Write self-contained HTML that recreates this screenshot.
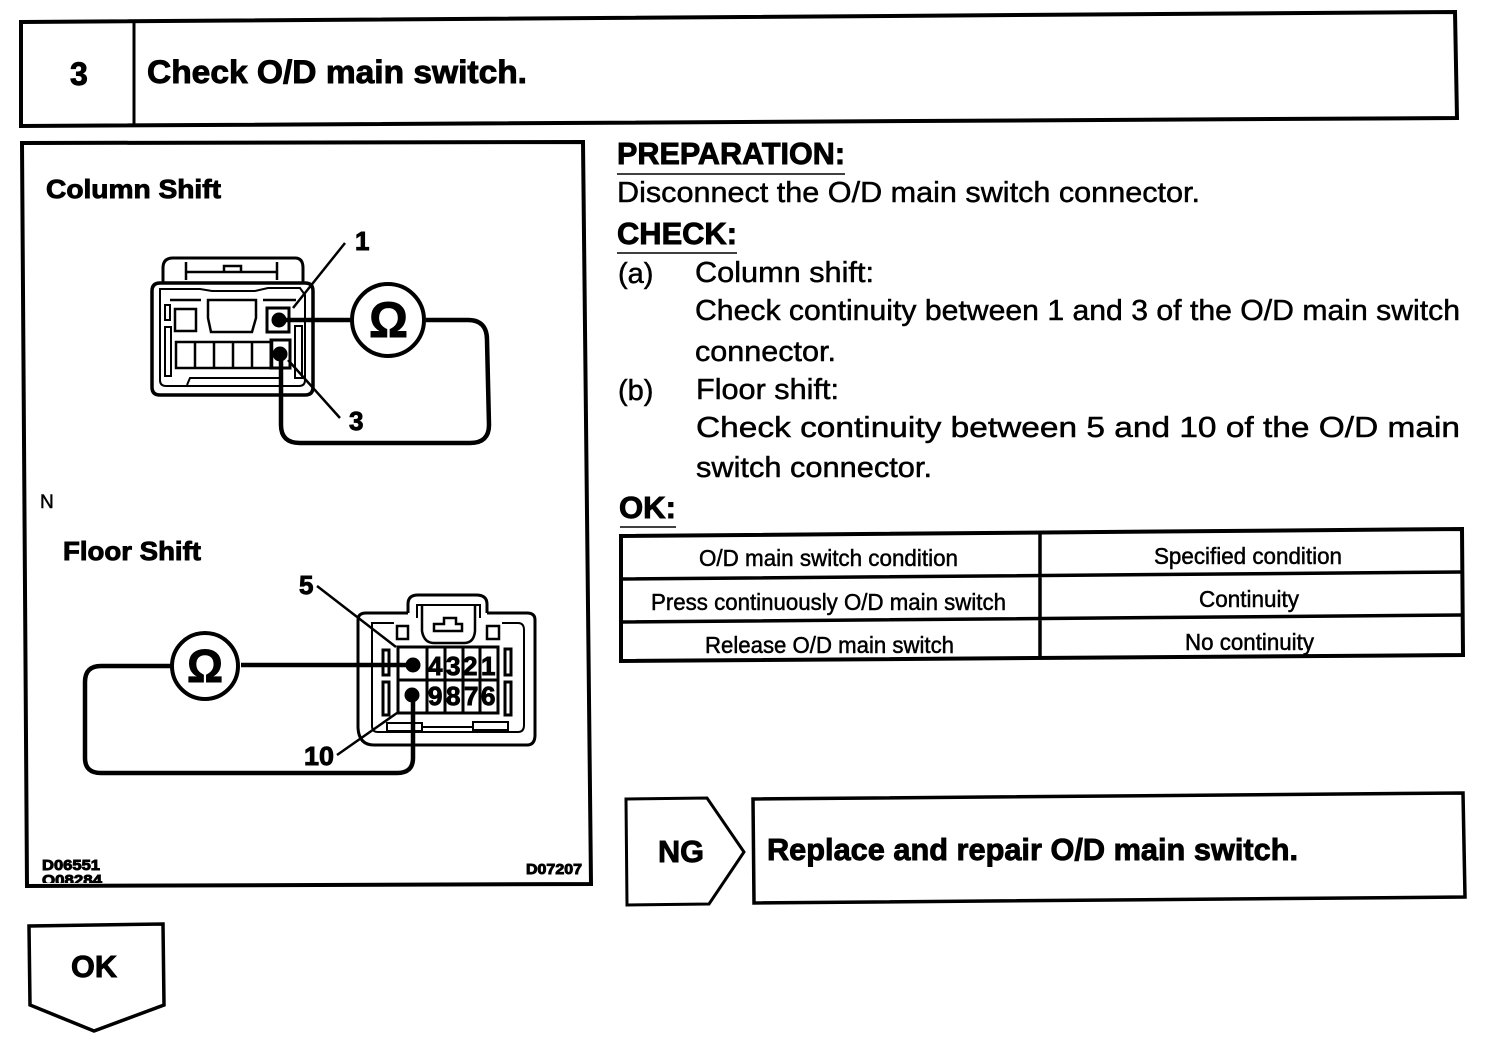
<!DOCTYPE html>
<html>
<head>
<meta charset="utf-8">
<style>
html,body{margin:0;padding:0;background:#fff;width:1504px;height:1044px;overflow:hidden}
svg{display:block}
text{font-family:"Liberation Sans",sans-serif;fill:#000;stroke:#000;stroke-width:.5px}
.b{font-weight:bold;stroke-width:.9px}
</style>
</head>
<body>
<svg width="1504" height="1044" viewBox="0 0 1504 1044">
<rect width="1504" height="1044" fill="#fff"/>
<g fill="none" stroke="#000" stroke-width="4">
<!-- header -->
<path d="M21 22 L1455 12 L1457 118 L21 126 Z"/>
<path d="M134 20 V125" stroke-width="3"/>
<!-- diagram frame -->
<path d="M22 143 L583 142 L591 884 L27 886 Z" stroke-width="4"/>
<!-- table -->
<path d="M621 536 L1462 529 L1463 655 L621 661 Z" stroke-width="4"/>
<path d="M621 579 L1462 572 M621 622 L1462 615 M1040 532 V658" stroke-width="3.5"/>
<!-- NG -->
<path d="M626 799 L707 798 L744 852 L709 904 L627 905 Z" stroke-width="3"/>
<path d="M753 799 L1463 793 L1465 897 L754 903 Z" stroke-width="3.5"/>
<!-- OK arrow -->
<path d="M29 926 L163 924 L164 1005 L94 1031 L30 1005 Z" stroke-width="3.5"/>
<!-- underlines -->
<path d="M617 174 H845 M617 253 H737 M620 527 H676" stroke-width="1.5"/>

<!-- Column shift connector -->
<g stroke-width="2.5">
<path d="M163 283 V268 Q163 258 173 258 H295 Q303 258 303 268 V283" stroke-width="3"/>
<path d="M186 262 V280 M277 262 V280 M186 272 H277"/>
<path d="M224 272 V266 H241 V272"/>
<path d="M160 283 H305 Q313 283 313 291 V387 Q313 395 305 395 H160 Q152 395 152 387 V291 Q152 283 160 283 Z" stroke-width="3.5"/>
<path d="M160 289 H200 L212 291 H255 L268 288 H300 L305 295 V380 Q305 386 299 386 H166 Q160 386 160 380 Z" stroke-width="2"/>
<path d="M170 300 H201 M263 300 H296"/>
<rect x="175" y="309" width="21" height="22"/>
<path d="M208 318 V300 H256 V318 L252 332 H211 Z"/>
<rect x="267" y="308" width="22" height="24" stroke-width="3"/>
<rect x="165" y="305" width="5" height="15" stroke-width="2"/>
<rect x="165" y="327" width="6" height="49" stroke-width="2"/>
<rect x="295" y="326" width="7" height="52" stroke-width="2"/>
<rect x="176" y="342" width="96" height="26"/>
<path d="M195 342 V368 M214 342 V368 M233 342 V368 M252 342 V368"/>
<rect x="271" y="340" width="19" height="28" stroke-width="3"/>
<path d="M187 385 L190 378 H281" stroke-width="2"/>
</g>
<path d="M345 243 L293 308 M288 360 L340 418" stroke-width="2.5"/>
<path d="M279 320 H352 M426 320 H468 Q487 320 487 340 L489 425 Q489 443 470 443 H300 Q281 443 281 425 V354" stroke-width="4.5"/>
<circle cx="388" cy="320" r="36" stroke-width="4"/>

<!-- Floor shift connector -->
<g stroke-width="2.5">
<path d="M408 613 V604 Q408 595 418 595 H476 Q487 595 487 604 V613" stroke-width="3"/>
<path d="M417 618 V605 H480 V618" stroke-width="2"/>
<path d="M422 606 V631 Q424 643 434 643 H464 Q474 643 475 631 V606"/>
<path d="M434 631 V624 H444 V618 H456 V624 H462 V631 Z"/>
<path d="M408 613 H366 Q358 613 358 620 V728 Q359 745 374 745 H527 Q535 745 535 735 V620 Q535 613 527 613 H487" stroke-width="3"/>
<path d="M394 623 H372 V726 Q372 732 378 732 H518 Q524 732 524 725 V630 Q524 623 518 623 H502" stroke-width="2"/>
<rect x="397" y="626" width="11" height="13" stroke-width="2.5"/>
<rect x="487" y="626" width="12" height="13" stroke-width="2.5"/>
<rect x="383" y="650" width="6" height="25" stroke-width="3"/>
<rect x="505" y="649" width="6" height="26" stroke-width="3"/>
<rect x="383" y="682" width="6" height="33" stroke-width="3"/>
<rect x="505" y="682" width="6" height="33" stroke-width="3"/>
<rect x="398" y="647" width="100" height="66" stroke-width="3"/>
<path d="M398 680 H498 M427 647 V713 M445 647 V713 M463 647 V713 M480 647 V713" stroke-width="3"/>
<path d="M387 723 H422 V731 H387 Z M473 722 H508 V730 H473 Z M422 727 H473" stroke-width="2"/>
</g>
<path d="M317 586 L396 647 M337 755 L397 713" stroke-width="2.5"/>
<path d="M241 665 H412 M172 666 H101 Q85 666 85 682 V758 Q85 773 101 773 H397 Q413 773 413 758 V695" stroke-width="4.5"/>
<circle cx="205" cy="666" r="33" stroke-width="4"/>
</g>
<circle cx="279" cy="320" r="7.5" fill="#000"/>
<circle cx="280" cy="354" r="7.5" fill="#000"/>
<circle cx="413" cy="665" r="7.5" fill="#000"/>
<circle cx="412" cy="695" r="7.5" fill="#000"/>

<!-- header text -->
<text class="b" x="70" y="85" font-size="32">3</text>
<text class="b" x="147" y="83" font-size="32" textLength="380" lengthAdjust="spacingAndGlyphs">Check O/D main switch.</text>

<!-- left panel text -->
<text class="b" x="46" y="198" font-size="26" textLength="175" lengthAdjust="spacingAndGlyphs">Column Shift</text>
<text class="b" x="63" y="560" font-size="26" textLength="138" lengthAdjust="spacingAndGlyphs">Floor Shift</text>
<text x="40" y="508" font-size="19">N</text>
<text class="b" x="355" y="250" font-size="26">1</text>
<text class="b" x="349" y="430" font-size="26">3</text>
<text class="b" x="299" y="594" font-size="26">5</text>
<text class="b" x="304" y="765" font-size="26" textLength="30" lengthAdjust="spacingAndGlyphs">10</text>
<text class="b" x="369" y="337" font-size="50" textLength="39" lengthAdjust="spacingAndGlyphs">Ω</text>
<text class="b" x="187" y="682" font-size="46" textLength="36" lengthAdjust="spacingAndGlyphs">Ω</text>
<g font-size="26">
<text class="b" x="428" y="675">4</text><text class="b" x="446" y="675">3</text><text class="b" x="463" y="675">2</text><text class="b" x="481" y="675">1</text>
<text class="b" x="428" y="705">9</text><text class="b" x="446" y="705">8</text><text class="b" x="464" y="705">7</text><text class="b" x="481" y="705">6</text>
</g>
<text class="b" x="42" y="870" font-size="14.5" textLength="58" lengthAdjust="spacingAndGlyphs">D06551</text>
<text class="b" x="526" y="874" font-size="14.5" textLength="56" lengthAdjust="spacingAndGlyphs">D07207</text>
<svg x="30" y="870" width="90" height="13" viewBox="30 870 90 13" overflow="hidden"><text class="b" x="42" y="885" font-size="14.5" textLength="60" lengthAdjust="spacingAndGlyphs">O08284</text></svg>

<!-- right text -->
<text class="b" x="617" y="164" font-size="31" textLength="228" lengthAdjust="spacingAndGlyphs">PREPARATION:</text>
<text x="617" y="202" font-size="29" textLength="583" lengthAdjust="spacingAndGlyphs">Disconnect the O/D main switch connector.</text>
<text class="b" x="617" y="244" font-size="31" textLength="120" lengthAdjust="spacingAndGlyphs">CHECK:</text>
<text x="618" y="283" font-size="29">(a)</text>
<text x="695" y="282" font-size="29" textLength="179" lengthAdjust="spacingAndGlyphs">Column shift:</text>
<text x="695" y="320" font-size="29" textLength="765" lengthAdjust="spacingAndGlyphs">Check continuity between 1 and 3 of the O/D main switch</text>
<text x="695" y="361" font-size="29" textLength="141" lengthAdjust="spacingAndGlyphs">connector.</text>
<text x="618" y="400" font-size="29">(b)</text>
<text x="696" y="399" font-size="29" textLength="143" lengthAdjust="spacingAndGlyphs">Floor shift:</text>
<text x="696" y="437" font-size="29" textLength="764" lengthAdjust="spacingAndGlyphs">Check continuity between 5 and 10 of the O/D main</text>
<text x="696" y="477" font-size="29" textLength="236" lengthAdjust="spacingAndGlyphs">switch connector.</text>
<text class="b" x="619" y="518" font-size="31" textLength="57" lengthAdjust="spacingAndGlyphs">OK:</text>

<!-- table text -->
<text x="699" y="566" font-size="23" textLength="259" lengthAdjust="spacingAndGlyphs">O/D main switch condition</text>
<text x="1154" y="564" font-size="23" textLength="188" lengthAdjust="spacingAndGlyphs">Specified condition</text>
<text x="651" y="610" font-size="23" textLength="355" lengthAdjust="spacingAndGlyphs">Press continuously O/D main switch</text>
<text x="1199" y="607" font-size="23" textLength="100" lengthAdjust="spacingAndGlyphs">Continuity</text>
<text x="705" y="653" font-size="23" textLength="249" lengthAdjust="spacingAndGlyphs">Release O/D main switch</text>
<text x="1185" y="650" font-size="23" textLength="129" lengthAdjust="spacingAndGlyphs">No continuity</text>

<!-- NG / OK -->
<text class="b" x="658" y="862" font-size="31" textLength="46" lengthAdjust="spacingAndGlyphs">NG</text>
<text class="b" x="767" y="860" font-size="31" textLength="531" lengthAdjust="spacingAndGlyphs">Replace and repair O/D main switch.</text>
<text class="b" x="71" y="977" font-size="31" textLength="46" lengthAdjust="spacingAndGlyphs">OK</text>
</svg>
</body>
</html>
